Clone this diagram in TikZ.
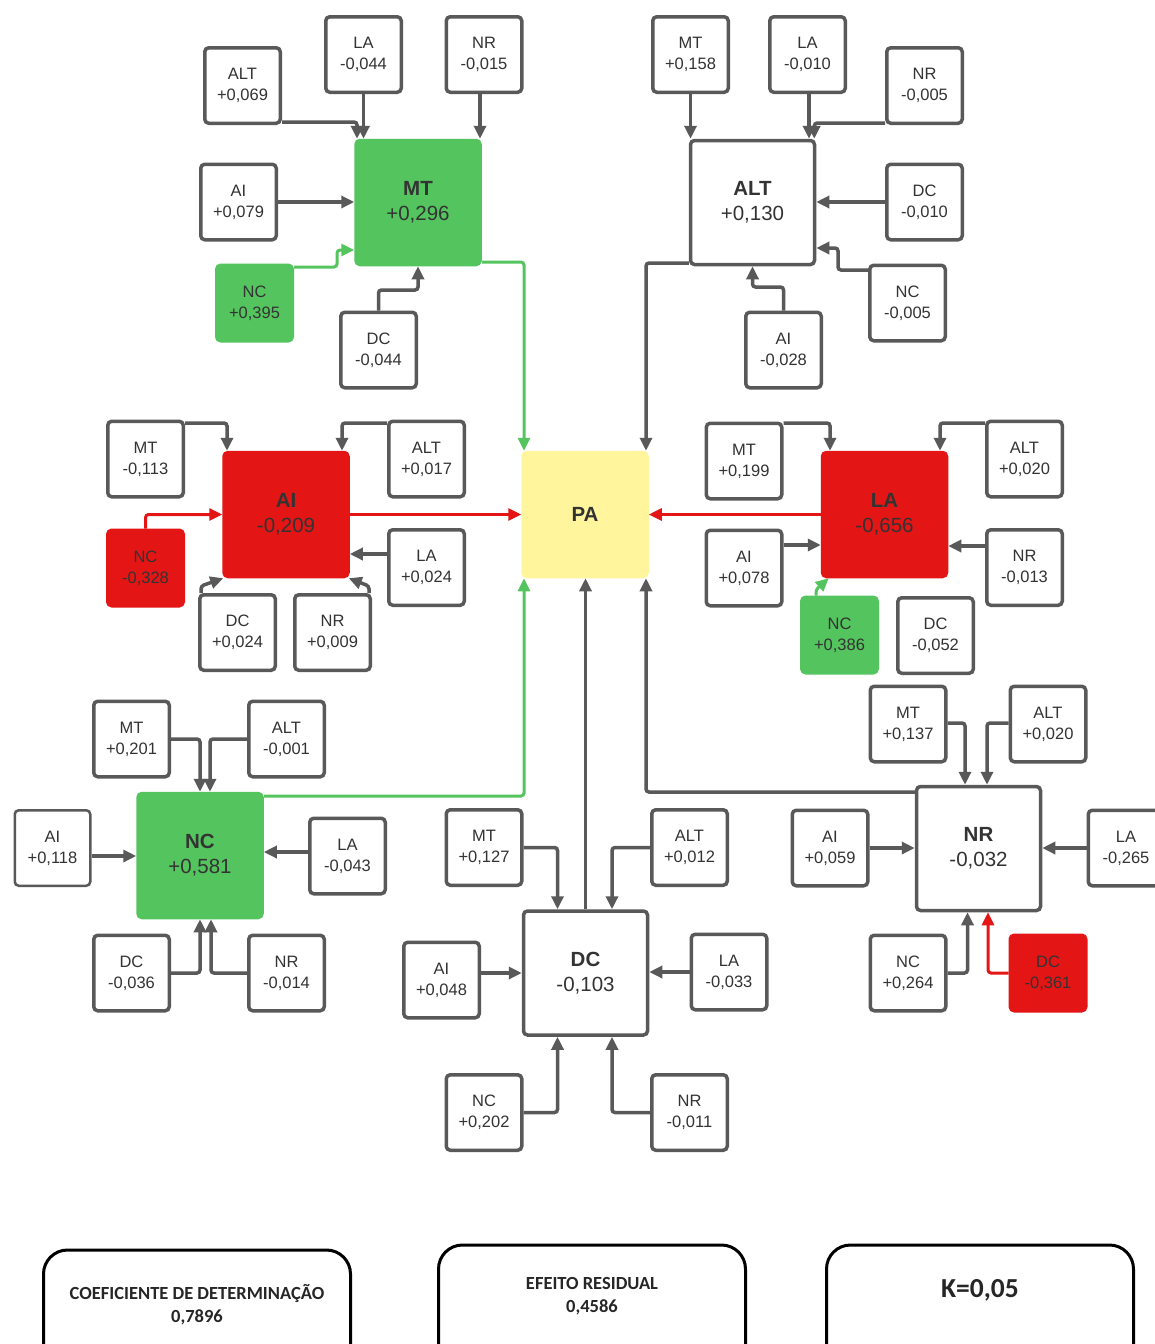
\documentclass[tikz,border=0pt]{standalone}
\usepackage{fontspec}
\setmainfont{Liberation Sans}
\newfontfamily\calfont{Carlito}
\usetikzlibrary{arrows.meta}
\definecolor{gr}{HTML}{595959}
\definecolor{grn}{HTML}{54C45E}
\definecolor{rd}{HTML}{E41515}
\definecolor{yl}{HTML}{FFF59D}
\definecolor{tx}{HTML}{333333}
\tikzset{
  sbox/.style={draw=gr, line width=3.5pt, fill=white, rounded corners=4pt,
    minimum width=75.5pt, minimum height=75.5pt, inner sep=0pt, align=center,
    text=tx, font=\fontsize{16.5}{21}\selectfont},
  mbox/.style={sbox, minimum width=124pt, minimum height=124pt,
    font=\fontsize{20.5}{25}\selectfont},
  gf/.style={draw=grn, fill=grn},
  rf/.style={draw=rd, fill=rd},
  arr/.style={draw=gr, line width=3.5pt, rounded corners=3pt,
    -{Triangle[length=13pt,width=12pt]}},
  arrG/.style={arr, draw=grn, line width=3pt},
  arrR/.style={arr, draw=rd, line width=3pt},
  bbox/.style={draw=black, line width=3pt, rounded corners=24pt,
    minimum width=307pt, minimum height=150pt, fill=white},
  btxt/.style={align=center, text=black!85,
    font=\calfont\bfseries\fontsize{18.5}{23}\selectfont}
}
\begin{document}
\begin{tikzpicture}[x=1pt,y=-1pt]
\useasboundingbox[fill=white] (0,0) rectangle (1155,1344);

% ---------- PA ----------
\node[mbox, draw=yl, fill=yl] (pa) at (585,514.5) {\textbf{PA}};

% ---------- MT cluster ----------
\node[mbox,gf] (mt) at (418,202.5) {\textbf{MT}\\+0,296};
\node[sbox] (mt-alt) at (242.5,85.5) {ALT\\+0,069};
\node[sbox] (mt-la) at (363.5,54.5) {LA\\-0,044};
\node[sbox] (mt-nr) at (484,54.5) {NR\\-0,015};
\node[sbox] (mt-ai) at (238.5,202) {AI\\+0,079};
\node[sbox,gf] (mt-nc) at (254.5,303) {NC\\+0,395};
\node[sbox] (mt-dc) at (378.5,350) {DC\\-0,044};
\draw[arr] (mt-alt.east |- 0,122) -| ([xshift=-61pt]mt.north);
\draw[arr] (mt-la.south) -- (mt-la.south |- mt.north);
\draw[arr] ([xshift=-4pt]mt-nr.south) -- ([xshift=-4pt]mt-nr.south |- mt.north);
\draw[arr] (mt-ai.east) -- (mt-ai.east -| mt.west);
\draw[arrG] (mt-nc.east |- 0,267) -| (337,250) -- (mt.west |- 0,250);
\draw[arr] (mt-dc.north) |- (mt.south |- 0,290) -- (mt.south);
\draw[arrG] (mt.east |- 0,262) -| ([xshift=-61pt]pa.north);

% ---------- ALT cluster ----------
\node[mbox] (alt) at (752.5,202.5) {\textbf{ALT}\\+0,130};
\node[sbox] (alt-mt) at (690.5,54.5) {MT\\+0,158};
\node[sbox] (alt-la) at (807.5,54.5) {LA\\-0,010};
\node[sbox] (alt-nr) at (924.5,85.5) {NR\\-0,005};
\node[sbox] (alt-dc) at (924.5,202) {DC\\-0,010};
\node[sbox] (alt-nc) at (907.5,303) {NC\\-0,005};
\node[sbox] (alt-ai) at (783.5,350) {AI\\-0,028};
\draw[arr] (alt-mt.south) -- (alt-mt.south |- alt.north);
\draw[arr] ([xshift=1.5pt]alt-la.south) -- ([xshift=1.5pt]alt-la.south |- alt.north);
\draw[arr] (alt-nr.west |- 0,123) -| ([xshift=-2pt]alt.north east);
\draw[arr] (alt-dc.west) -- (alt-dc.west -| alt.east);
\draw[arr] (alt-nc.west |- 0,270) -| (838,248) -- (alt.east |- 0,248);
\draw[arr] (alt-ai.north) |- (alt.south |- 0,287) -- (alt.south);
\draw[arr] (alt.west |- 0,263) -| ([xshift=61pt]pa.north);

% ---------- AI cluster ----------
\node[mbox,rf] (ai) at (286,514.5) {\textbf{AI}\\-0,209};
\node[sbox] (ai-mt) at (145.5,459) {MT\\-0,113};
\node[sbox] (ai-alt) at (426.5,459) {ALT\\+0,017};
\node[sbox,rf] (ai-nc) at (145.5,568) {NC\\-0,328};
\node[sbox] (ai-la) at (426.5,567.5) {LA\\+0,024};
\node[sbox] (ai-dc) at (237.5,632.5) {DC\\+0,024};
\node[sbox] (ai-nr) at (332.5,632.5) {NR\\+0,009};
\draw[arr] (ai-mt.east |- 0,423) -| ([xshift=-59pt]ai.north);
\draw[arr] (ai-alt.west |- 0,423) -| ([xshift=56pt]ai.north);
\draw[arrR] (ai-nc.north) |- (ai.west);
\draw[arr] (ai-la.west |- 0,554) -- (ai.east |- 0,554);
\draw[arr] ([xshift=3pt]ai-dc.north west) -- ++(0,-7) -- ([xshift=1pt]ai.south west);
\draw[arr] ([xshift=-3pt]ai-nr.north east) -- ++(0,-7) -- ([xshift=-1pt]ai.south east);
\draw[arrR] (ai.east) -- (pa.west);

% ---------- LA cluster ----------
\node[mbox,rf] (la) at (884.5,514.5) {\textbf{LA}\\-0,656};
\node[sbox] (la-mt) at (744,461) {MT\\+0,199};
\node[sbox] (la-alt) at (1024.5,459) {ALT\\+0,020};
\node[sbox] (la-ai) at (744,568) {AI\\+0,078};
\node[sbox] (la-nr) at (1024.5,567.5) {NR\\-0,013};
\node[sbox,gf] (la-nc) at (839.5,635) {NC\\+0,386};
\node[sbox] (la-dc) at (935.5,635.5) {DC\\-0,052};
\draw[arr] (la-mt.east |- 0,423) -| ([xshift=-54.5pt]la.north);
\draw[arr] (la-alt.west |- 0,423) -| ([xshift=55.5pt]la.north);
\draw[arr] (la-ai.east |- 0,545) -- (la.west |- 0,545);
\draw[arr] (la-nr.west |- 0,546) -- (la.east |- 0,546);
\draw[arrG] ([xshift=16pt]la-nc.north west) -- ++(0,-6) -- ([xshift=8pt]la.south west);
\draw[arrR] (la.west) -- (pa.east);

% ---------- NC cluster ----------
\node[mbox,gf] (nc) at (200,855.5) {\textbf{NC}\\+0,581};
\node[sbox] (nc-mt) at (131.5,739) {MT\\+0,201};
\node[sbox] (nc-alt) at (286.5,739) {ALT\\-0,001};
\node[sbox, line width=2.5pt] (nc-ai) at (52.5,848) {AI\\+0,118};
\node[sbox] (nc-la) at (347.5,856) {LA\\-0,043};
\node[sbox] (nc-dc) at (131.5,973) {DC\\-0,036};
\node[sbox] (nc-nr) at (286.5,973) {NR\\-0,014};
\draw[arr] (nc-mt.east) -| (nc.north);
\draw[arr] (nc-alt.west) -| ([xshift=10pt]nc.north);
\draw[arr] (nc-ai.east |- 0,856) -- (nc.west |- 0,856);
\draw[arr] (nc-la.west |- 0,852) -- (nc.east |- 0,852);
\draw[arr] (nc-dc.east) -| (nc.south);
\draw[arr] (nc-nr.west) -| ([xshift=11pt]nc.south);
\draw[arrG] (nc.east |- 0,796) -| ([xshift=-61pt]pa.south);

% ---------- DC cluster ----------
\node[mbox] (dc) at (585.5,973) {\textbf{DC}\\-0,103};
\node[sbox] (dc-mt) at (484,847.5) {MT\\+0,127};
\node[sbox] (dc-alt) at (689.5,847.5) {ALT\\+0,012};
\node[sbox] (dc-ai) at (441.5,980) {AI\\+0,048};
\node[sbox] (dc-la) at (729,972) {LA\\-0,033};
\node[sbox] (dc-nc) at (484,1112.5) {NC\\+0,202};
\node[sbox] (dc-nr) at (689.5,1112.5) {NR\\-0,011};
\draw[arr] (dc-mt.east) -| ([xshift=-28pt]dc.north);
\draw[arr] (dc-alt.west) -| ([xshift=26.5pt]dc.north);
\draw[arr] (dc-ai.east |- dc.west) -- (dc.west);
\draw[arr] (dc-la.west) -- (dc-la.west -| dc.east);
\draw[arr] (dc-nc.east) -| ([xshift=-28pt]dc.south);
\draw[arr] (dc-nr.west) -| ([xshift=26.5pt]dc.south);
\draw[arr] (dc.north) -- (dc.north |- pa.south);

% ---------- NR cluster ----------
\node[mbox] (nr) at (978.5,848.5) {\textbf{NR}\\-0,032};
\node[sbox] (nr-mt) at (908,724) {MT\\+0,137};
\node[sbox] (nr-alt) at (1048,724) {ALT\\+0,020};
\node[sbox] (nr-ai) at (830,848) {AI\\+0,059};
\node[sbox] (nr-la) at (1126,848) {LA\\-0,265};
\node[sbox] (nr-nc) at (908,973) {NC\\+0,264};
\node[sbox,rf] (nr-dc) at (1048,973) {DC\\-0,361};
\draw[arr] (nr-mt.east |- 0,723) -| ([xshift=-13.5pt]nr.north);
\draw[arr] (nr-alt.west |- 0,723) -| ([xshift=8.5pt]nr.north);
\draw[arr] (nr-ai.east) -- (nr-ai.east -| nr.west);
\draw[arr] (nr-la.west) -- (nr-la.west -| nr.east);
\draw[arr] (nr-nc.east) -| ([xshift=-11pt]nr.south);
\draw[arrR] (nr-dc.west) -| ([xshift=9.5pt]nr.south);
\draw[arr] (nr.west |- 0,792) -| ([xshift=61pt]pa.south);

% ---------- bottom boxes ----------
\node[bbox] (b1) at (197,1325) {};
\node[btxt] (t1) at (197,1305) {COEFICIENTE DE DETERMINAÇÃO\\0,7896};
\node[bbox] (b2) at (592,1320) {};
\node[btxt] (t2) at (592,1296) {EFEITO RESIDUAL\\0,4586};
\node[bbox] (b3) at (980,1320) {};
\node[btxt, font=\calfont\bfseries\fontsize{27.5}{30}\selectfont] (t3) at (980,1290) {K=0,05};
\end{tikzpicture}
\end{document}
